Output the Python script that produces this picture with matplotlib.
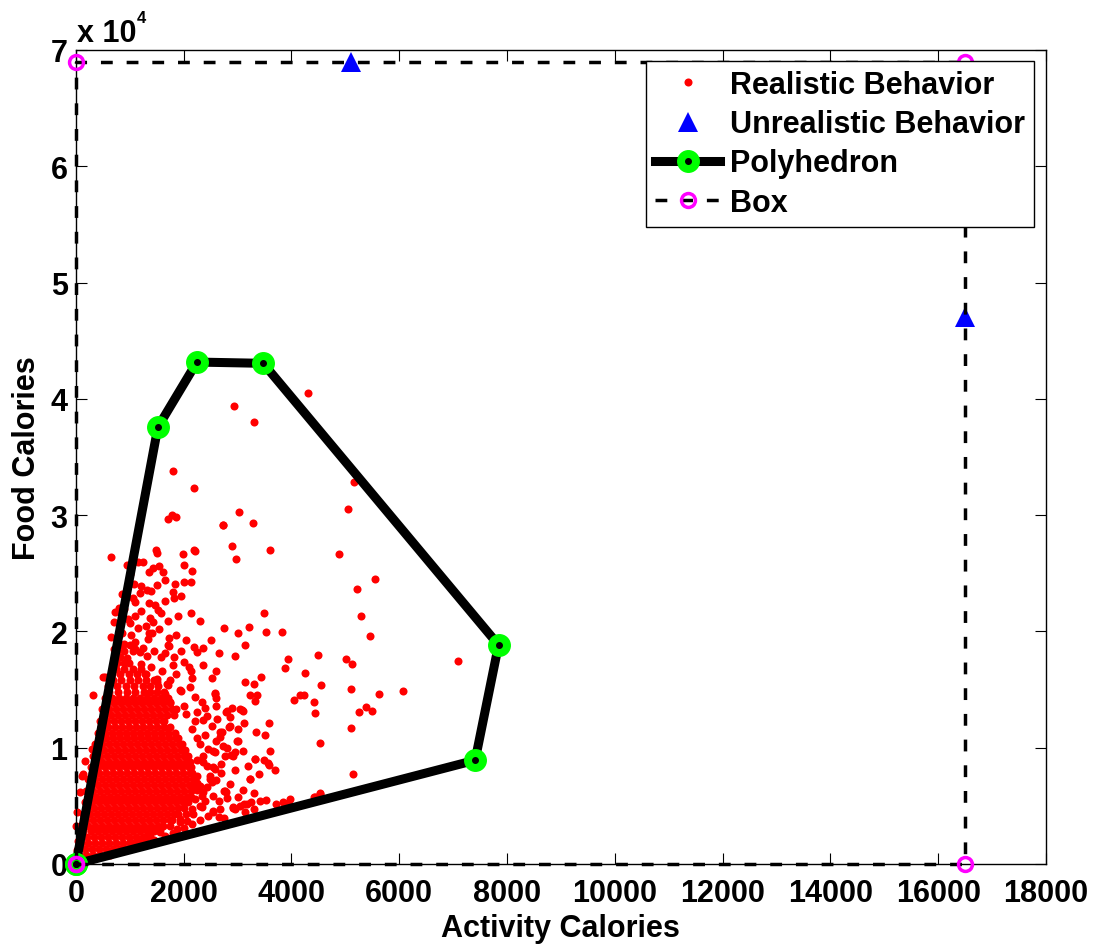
import matplotlib
matplotlib.use('Agg')
import matplotlib.pyplot as plt

plt.rcParams['font.family'] = ['Liberation Sans', 'DejaVu Sans']
plt.rcParams['font.weight'] = 'bold'
plt.rcParams['axes.labelweight'] = 'bold'

# dense core of realistic days, one row of activity values per food value
core_rows_y = [300, 800, 1300, 1800, 2300, 2800, 3300, 3800, 4300, 4800, 5300, 5800,
               6300, 6800, 7300, 7800, 8300, 8800, 9300, 9800, 10300, 10800, 11300,
               11800, 12300, 12800, 13300, 13800, 14300, 14800, 15300, 15800, 16300,
               16800, 17300, 17800, 18300, 18800]
core_rows_x = [
    [10, 140, 270],
    [60, 190, 320, 450, 580, 640],
    [40, 170, 300, 430, 560, 690, 820, 900],
    [100, 230, 360, 490, 620, 750, 880, 1010, 1100],
    [70, 200, 330, 460, 590, 720, 850, 980, 1110, 1240, 1300],
    [140, 270, 400, 530, 660, 790, 920, 1050, 1180, 1310, 1440],
    [100, 230, 360, 490, 620, 750, 880, 1010, 1140, 1270, 1400, 1530, 1620],
    [180, 310, 440, 570, 700, 830, 960, 1090, 1220, 1350, 1480, 1610, 1740, 1780],
    [130, 260, 390, 520, 650, 780, 910, 1040, 1170, 1300, 1430, 1560, 1690, 1820, 1900],
    [210, 340, 470, 600, 730, 860, 990, 1120, 1250, 1380, 1510, 1640, 1770, 1900, 2000],
    [160, 290, 420, 550, 680, 810, 940, 1070, 1200, 1330, 1460, 1590, 1720, 1850, 1980, 2080],
    [240, 370, 500, 630, 760, 890, 1020, 1150, 1280, 1410, 1540, 1670, 1800, 1930, 2060, 2130],
    [190, 320, 450, 580, 710, 840, 970, 1100, 1230, 1360, 1490, 1620, 1750, 1880, 2010, 2140],
    [270, 400, 530, 660, 790, 920, 1050, 1180, 1310, 1440, 1570, 1700, 1830, 1960, 2090, 2170],
    [220, 350, 480, 610, 740, 870, 1000, 1130, 1260, 1390, 1520, 1650, 1780, 1910, 2040, 2170],
    [300, 430, 560, 690, 820, 950, 1080, 1210, 1340, 1470, 1600, 1730, 1860, 1990, 2120, 2160],
    [270, 400, 530, 660, 790, 920, 1050, 1180, 1310, 1440, 1570, 1700, 1830, 1960, 2090, 2140],
    [350, 480, 610, 740, 870, 1000, 1130, 1260, 1390, 1520, 1650, 1780, 1910, 2040, 2110],
    [310, 440, 570, 700, 830, 960, 1090, 1220, 1350, 1480, 1610, 1740, 1870, 2000, 2080],
    [390, 520, 650, 780, 910, 1040, 1170, 1300, 1430, 1560, 1690, 1820, 1950, 2030],
    [350, 480, 610, 740, 870, 1000, 1130, 1260, 1390, 1520, 1650, 1780, 1910, 1970],
    [430, 560, 690, 820, 950, 1080, 1210, 1340, 1470, 1600, 1730, 1860, 1900],
    [400, 530, 660, 790, 920, 1050, 1180, 1310, 1440, 1570, 1700, 1830],
    [470, 600, 730, 860, 990, 1120, 1250, 1380, 1510, 1640, 1740],
    [440, 570, 700, 830, 960, 1090, 1220, 1350, 1480, 1610, 1640],
    [520, 650, 780, 910, 1040, 1170, 1300, 1430, 1560, 1690, 1820],
    [490, 620, 750, 880, 1010, 1140, 1270, 1400, 1530, 1660, 1790],
    [570, 700, 830, 960, 1090, 1220, 1350, 1480, 1610, 1740],
    [540, 670, 800, 930, 1060, 1190, 1320, 1450, 1580, 1700],
    [620, 780, 940, 1100, 1260, 1380, 1500, 1640],
    [600, 760, 920, 1080, 1240, 1380, 1520],
    [680, 840, 1000, 1160, 1300, 1440],
    [660, 820, 980, 1140, 1280],
    [740, 900, 1060, 1200],
    [730, 890, 980],
    [820],
    [760, 900, 1050],
    [820, 1000],
]

# scattered realistic days (activity, food)
outlier_pts = [
    (2926, 39380), (3297, 38010), (4305, 40500), (5159, 32820), (5041, 30530),
    (3019, 30270), (2733, 29150), (3290, 29350), (2900, 27370), (2969, 26230),
    (3600, 27030), (4874, 26630), (5554, 24530), (5208, 23670), (5295, 21300),
    (5450, 19630), (3483, 21580), (2752, 20320), (3000, 19890), (3216, 20410),
    (3519, 19950), (3817, 19950), (2301, 20920),
    (4497, 17950), (5004, 17630), (5115, 17200), (4244, 16440), (4540, 15350),
    (4231, 14530), (5103, 15070), (5628, 14590), (6068, 14850), (4411, 13960),
    (4441, 13000), (5251, 13030), (5376, 13500), (5499, 13150), (7094, 17480),
    (5109, 11670), (4528, 10380), (5134, 7710), (4528, 6050), (4435, 5790),
    (2357, 18570), (3136, 18830), (2957, 17910), (3928, 17600), (3872, 16850),
    (2530, 15990), (3136, 15650), (3303, 15510), (3433, 16100), (3229, 14530),
    (3365, 14560), (3322, 13980), (2574, 14680), (2598, 14280), (4045, 14100),
    (4157, 14510), (2783, 13090), (2889, 13430), (3043, 13290), (3105, 13170),
    (3124, 12120), (2845, 11740), (3006, 11600), (3588, 12150), (3340, 11350),
    (3513, 11090), (3000, 10600), (3606, 9740), (2877, 9330), (2945, 9590),
    (3328, 9030), (3494, 8920), (3575, 8480), (3693, 8080), (3223, 7340),
    (3557, 8670), (2752, 6250), (2957, 4720), (3124, 5130), (3254, 5330),
    (3414, 5440), (3519, 5470), (3717, 5130), (3841, 5350), (3940, 5240),
    (4422, 5800), (4522, 6100), (2672, 4760), (2548, 4510), (2752, 3950),
    (1800, 33790), (2184, 32360), (1775, 30040), (1713, 29670), (1856, 29800),
    (2728, 29110), (644, 26370), (1485, 27010), (1497, 26720), (1985, 26660),
    (2184, 27000), (2208, 26910), (1145, 25940), (1360, 25130), (1435, 25450),
    (1540, 25650), (1620, 25130), (1652, 24440), (2159, 25220), (2004, 24220),
    (2128, 24220), (1837, 24050), (1825, 22840), (1002, 24940), (1083, 24100),
    (1194, 23300), (1324, 23530), (1392, 23440), (804, 22030), (965, 21070),
    (1089, 21300), (1200, 21730), (1472, 22270), (1516, 21870), (1571, 21580),
    (1373, 21170), (1423, 20780), (2140, 21580), (779, 19490), (1021, 19720),
    (1360, 19830), (1410, 19890), (1336, 19350), (1726, 19400), (1701, 18860),
    (1726, 18720), (1095, 19060), (1101, 18490), (1182, 18200), (1311, 17910),
    (1577, 17800), (1813, 17770), (2184, 18660), (2252, 18200), (2128, 16560),
    (2146, 15960), (507, 16060),
    (1683, 15480), (1949, 14900), (2116, 15200), (2332, 13910), (2239, 13050),
    (2425, 12760), (2518, 11900), (2611, 12470), (2673, 11330), (2858, 11900),
    (2734, 10180), (2765, 9310), (2580, 9610), (2549, 8310), (2363, 8740),
    (2487, 7310), (2301, 6740), (2363, 6160), (2332, 4880), (2177, 4300),
    (1930, 3580), (1745, 3290), (1559, 3010), (1342, 2440), (1002, 1870),
    (2777, 6160), (2920, 4870), (3137, 4450), (3972, 5590),
    (321, 14530), (1497, 15630), (1714, 15390), (1930, 14990), (2580, 14620),
    (2796, 13190), (3075, 13240), (2704, 11310), (2673, 10890), (2982, 10600),
    (2549, 9740), (2920, 9310), (3322, 9030), (2425, 8450), (2580, 8170),
    (3229, 7310), (2487, 7590), (2518, 7030), (2425, 6600), (2332, 5870),
    (2549, 5870), (2765, 6300), (2301, 5010), (2549, 4580), (2920, 4780),
    (3044, 5010), (3168, 5160), (1930, 3870), (2054, 3730), (1869, 3010),
    (1559, 2720), (1373, 2440), (1157, 2000),
    (291, 9890), (167, 8880), (136, 7740), (74, 6160), (12, 4470), (0, 3290),
    (105, 7590), (538, 16060), (40, 2000), (20, 1200),
    # ring of days around the core
    (700, 18500), (900, 18900), (1250, 18600), (1450, 18300), (1650, 18100),
    (1950, 18300), (850, 19900), (1150, 20300), (1550, 20200), (1850, 19700),
    (2050, 19300), (700, 20800), (1000, 20700), (1300, 20500), (1700, 20900),
    (1900, 21300), (900, 21900), (1100, 22500), (1350, 22400), (1650, 22600),
    (1950, 23000), (850, 23200), (1200, 23900), (1500, 24000), (1800, 23400),
    (950, 25700), (1250, 26000), (2000, 25700), (1200, 17200), (1400, 16900),
    (1600, 16600), (1850, 16300), (1800, 17100), (2000, 17400), (1500, 15900),
    (1750, 15800), (1300, 16300), (950, 17700), (760, 17300), (650, 19500),
    (720, 21700), (1050, 22900),
    (2150, 11600), (2250, 10800), (2400, 11100), (2200, 12300), (2050, 12900),
    (2350, 12400), (1850, 13300), (1750, 13900), (2000, 13600), (2200, 14400),
    (1650, 14600), (2300, 10300), (2450, 9900), (2350, 9300), (2250, 8900),
    (2700, 8600), (2600, 7200), (2700, 7800), (2850, 6900), (2650, 5400),
    (2800, 5700), (2400, 5400), (2300, 3800), (2450, 4100), (2650, 4000),
    (2150, 3400), (2000, 3100), (1800, 2700), (1650, 2400), (1450, 2100),
    (1250, 1800), (2250, 7600), (2250, 7000), (2250, 6400), (2200, 5600),
    (2150, 4700), (2050, 4300), (2600, 10600), (2800, 10000), (3100, 9700),
    (3200, 8400), (2950, 8100), (3400, 7700), (3100, 6400), (3300, 6100),
    (3000, 5800), (3300, 4700), (2600, 13600), (2850, 12600), (2400, 13400),
    (2100, 16900), (2350, 17100), (2600, 16600), (2500, 19300), (2650, 18100),
]

# unrealistic days
unreal_x = [5100, 16500]
unreal_y = [69000, 47000]

# convex polyhedron of realistic behaviour (closed)
poly_x = [0, 1521, 2245, 3475, 7842, 7408, 0]
poly_y = [0, 37570, 43160, 43050, 18830, 8920, 0]

# bounding box (closed)
box_x = [0, 16500, 16500, 0, 0]
box_y = [0, 0, 69000, 69000, 0]

real_x = [x for row in core_rows_x for x in row] + [p[0] for p in outlier_pts]
real_y = [y for y, row in zip(core_rows_y, core_rows_x) for _ in row] + [p[1] for p in outlier_pts]

fig = plt.figure(figsize=(10.96, 9.45), dpi=100)
ax = fig.add_axes([0.0693, 0.0847, 0.8850, 0.8614])

h_real, = ax.plot(real_x, real_y, 'o', color='red', ms=5.8, mew=0, ls='none',
                  zorder=2, clip_on=False)
h_unreal, = ax.plot(unreal_x, unreal_y, '^', color='blue', ms=15, mew=0, ls='none',
                    zorder=5, clip_on=False)
h_poly, = ax.plot(poly_x, poly_y, '-', color='black', lw=6.5, marker='o', ms=15.5,
                  mfc=(0, 1, 0), mec=(0, 1, 0), zorder=3, clip_on=False)
h_dot, = ax.plot(poly_x, poly_y, 'o', color='black', ms=4, ls='none', zorder=4,
                 clip_on=False)
h_box, = ax.plot(box_x, box_y, color='black', lw=2.5, ls=(0, (3.4, 4.0)),
                 marker='o', ms=10, mfc='none', mec='magenta', mew=2.5,
                 zorder=6, clip_on=False)

ax.set_xlim(0, 18000)
ax.set_ylim(0, 70000)
ax.set_xticks(range(0, 18001, 2000))
ax.set_yticks(range(0, 70001, 10000))
ax.set_yticklabels([str(v) for v in range(0, 8)])
ax.tick_params(direction='in', length=8, width=0.8, top=True, right=True, labelsize=22)
ax.tick_params(axis='x', pad=10)
ax.tick_params(axis='y', pad=6)
for s in ax.spines.values():
    s.set_linewidth(1.0)

ax.set_xlabel('Activity Calories', fontsize=22, labelpad=4)
ax.set_ylabel('Food Calories', fontsize=22, labelpad=6)

fig.text(77 / 1096, 1 - 42 / 945, 'x 10', fontsize=22, va='baseline', ha='left')
fig.text(137 / 1096, 1 - 23 / 945, '4', fontsize=12, va='baseline', ha='left')

leg = ax.legend([h_real, h_unreal, (h_poly, h_dot), h_box],
                ['Realistic Behavior', 'Unrealistic Behavior', 'Polyhedron', 'Box'],
                loc='upper right', bbox_to_anchor=(0.9876, 0.9865), borderaxespad=0,
                fontsize=22, fancybox=False, edgecolor='black', framealpha=1,
                handlelength=2.1, handletextpad=0.33, labelspacing=0.3, borderpad=0.3)
leg.get_frame().set_linewidth(1.0)
leg.set_zorder(10)

fig.savefig('out.png', dpi=100)
